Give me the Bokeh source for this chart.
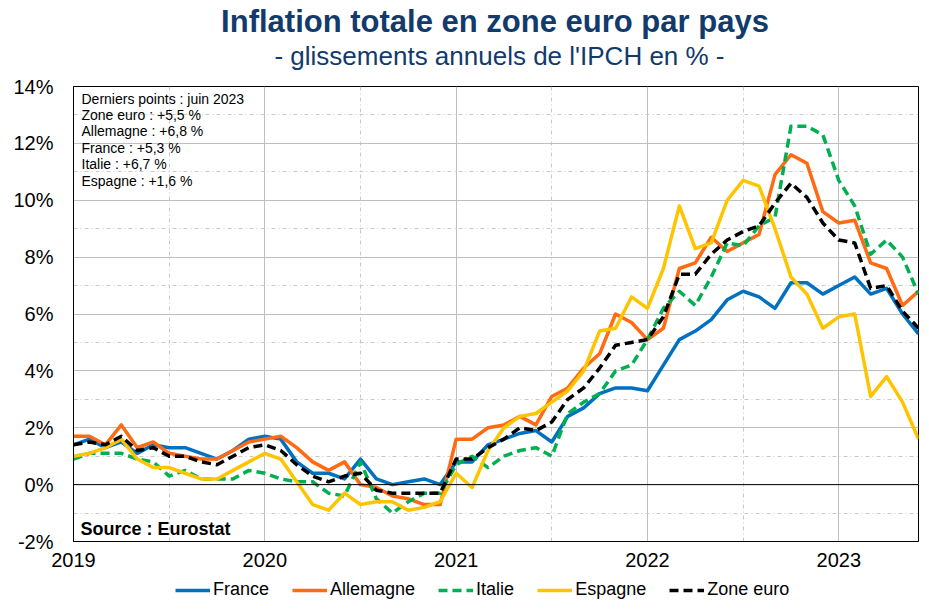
import numpy as np
from bokeh.plotting import figure
from bokeh.layouts import column
from bokeh.models import (Range1d, FixedTicker, Span, Label, Legend, LegendItem)
from bokeh.embed import file_html
from bokeh.resources import INLINE

# Monthly data, Jan 2019 -> Jun 2023 (HICP, y/y %)
france = [1.4, 1.6, 1.3, 1.5, 1.1, 1.4, 1.3, 1.3, 1.1, 0.9, 1.2, 1.6,
          1.7, 1.6, 0.8, 0.4, 0.4, 0.2, 0.9, 0.2, 0.0, 0.1, 0.2, 0.0,
          0.8, 0.8, 1.4, 1.6, 1.8, 1.9, 1.5, 2.4, 2.7, 3.2, 3.4, 3.4,
          3.3, 4.2, 5.1, 5.4, 5.8, 6.5, 6.8, 6.6, 6.2, 7.1, 7.1, 6.7,
          7.0, 7.3, 6.7, 6.9, 6.0, 5.3]
allemagne = [1.7, 1.7, 1.4, 2.1, 1.3, 1.5, 1.1, 1.0, 0.9, 0.9, 1.2, 1.5,
             1.6, 1.7, 1.3, 0.8, 0.5, 0.8, 0.0, -0.1, -0.4, -0.5, -0.7, -0.7,
             1.6, 1.6, 2.0, 2.1, 2.4, 2.1, 3.1, 3.4, 4.1, 4.6, 6.0, 5.7,
             5.1, 5.5, 7.6, 7.8, 8.7, 8.2, 8.5, 8.8, 10.9, 11.6, 11.3, 9.6,
             9.2, 9.3, 7.8, 7.6, 6.3, 6.8]
italie = [0.9, 1.1, 1.1, 1.1, 0.9, 0.8, 0.3, 0.5, 0.2, 0.2, 0.2, 0.5,
          0.4, 0.2, 0.1, 0.1, -0.3, -0.4, 0.8, -0.5, -1.0, -0.6, -0.3, -0.3,
          0.7, 1.0, 0.6, 1.0, 1.2, 1.3, 1.0, 2.5, 2.9, 3.2, 4.0, 4.2,
          5.1, 6.2, 6.8, 6.3, 7.3, 8.5, 8.4, 9.1, 9.4, 12.6, 12.6, 12.3,
          10.7, 9.8, 8.1, 8.6, 8.0, 6.7]
espagne = [1.0, 1.1, 1.3, 1.6, 0.9, 0.6, 0.6, 0.4, 0.2, 0.2, 0.5, 0.8,
           1.1, 0.9, 0.1, -0.7, -0.9, -0.3, -0.7, -0.6, -0.6, -0.9, -0.8, -0.6,
           0.4, -0.1, 1.2, 2.0, 2.4, 2.5, 2.9, 3.3, 4.0, 5.4, 5.5, 6.6,
           6.2, 7.6, 9.8, 8.3, 8.5, 10.0, 10.7, 10.5, 9.0, 7.3, 6.7, 5.5,
           5.9, 6.0, 3.1, 3.8, 2.9, 1.6]
zone_euro = [1.4, 1.5, 1.4, 1.7, 1.2, 1.3, 1.0, 1.0, 0.8, 0.7, 1.0, 1.3,
             1.4, 1.2, 0.7, 0.3, 0.1, 0.3, 0.4, -0.2, -0.3, -0.3, -0.3, -0.3,
             0.9, 0.9, 1.3, 1.6, 2.0, 1.9, 2.2, 3.0, 3.4, 4.1, 4.9, 5.0,
             5.1, 5.9, 7.4, 7.4, 8.1, 8.6, 8.9, 9.1, 9.9, 10.6, 10.1, 9.2,
             8.6, 8.5, 6.9, 7.0, 6.1, 5.5]

years = ["2019", "2020", "2021", "2022", "2023"]
y_ticks = [-2, 0, 2, 4, 6, 8, 10, 12, 14]
info_lines = ["Derniers points : juin 2023", "Zone euro : +5,5 %", "Allemagne : +6,8 %",
              "France : +5,3 %", "Italie : +6,7 %", "Espagne : +1,6 %"]
title_text = "Inflation totale en zone euro par pays"
subtitle_text = "- glissements annuels de l'IPCH en % -"
source_text = "Source : Eurostat"

series = [("France", france, "#0070C0", "solid"),
          ("Allemagne", allemagne, "#FF6A13", "solid"),
          ("Italie", italie, "#00B050", "9 5"),
          ("Espagne", espagne, "#FFC400", "solid"),
          ("Zone euro", zone_euro, "#000000", "9 5")]

x = np.arange(len(france))
FONT = "Liberation Sans"
NAVY = "#123A6B"

# ---- title strip ----
tt = figure(width=921, height=70, output_backend="svg", toolbar_location=None,
            x_range=Range1d(0, 1), y_range=Range1d(0, 1),
            x_axis_location=None, y_axis_location=None,
            min_border_left=0, min_border_right=0, min_border_top=0, min_border_bottom=0)
tt.outline_line_color = None
tt.grid.visible = False
tt.add_layout(Label(x=421.5, y=49, x_units="screen", y_units="screen",
                    text=title_text, text_align="center", text_baseline="alphabetic",
                    text_font=FONT, text_font_size="31px", text_font_style="bold",
                    text_color=NAVY))
tt.add_layout(Label(x=426, y=15, x_units="screen", y_units="screen",
                    text=subtitle_text, text_align="center", text_baseline="alphabetic",
                    text_font=FONT, text_font_size="26px", text_color=NAVY))

# ---- main chart ----
p = figure(width=921, height=505, output_backend="svg", toolbar_location=None,
           x_range=Range1d(0, len(france) - 1), y_range=Range1d(-2, 14),
           min_border_left=73, min_border_right=3, min_border_top=16, min_border_bottom=34)
p.outline_line_color = "black"
p.outline_line_width = 1
p.background_fill_color = "white"
p.border_fill_color = "white"

year_ticks = [12 * i for i in range(len(years))]
p.xaxis.ticker = FixedTicker(ticks=year_ticks, minor_ticks=[t + 6 for t in year_ticks])
p.xaxis.major_label_overrides = {t: lab for t, lab in zip(year_ticks, years)}
p.yaxis.ticker = FixedTicker(ticks=y_ticks, minor_ticks=[t + 1 for t in y_ticks[:-1]])
p.yaxis.major_label_overrides = {t: f"{t}%" for t in y_ticks}
for ax in (p.xaxis[0], p.yaxis[0]):
    ax.major_tick_line_color = None
    ax.minor_tick_line_color = None
    ax.axis_line_color = "black"
    ax.major_label_text_font = FONT
    ax.major_label_text_color = "black"
p.xaxis.major_label_text_font_size = "20px"
p.yaxis.major_label_text_font_size = "20px"
p.xaxis.major_label_standoff = 5
p.yaxis.major_label_standoff = 14

for g in (p.xgrid[0], p.ygrid[0]):
    g.grid_line_color = "#BFBFBF"
    g.grid_line_width = 1
    g.minor_grid_line_color = "#C8C8C8"
    g.minor_grid_line_dash = "4 3 1 3"
    g.minor_grid_line_width = 1
p.xgrid.ticker = p.xaxis.ticker
p.ygrid.ticker = p.yaxis.ticker

p.add_layout(Span(location=0, dimension="width", line_color="black", line_width=1))

for name, vals, col, dash in series:
    p.line(x, vals, line_color=col, line_width=3.5, line_dash=dash, line_join="round")

for i, line in enumerate(info_lines):
    p.add_layout(Label(x=8, y=443 - i * 16.4, x_units="screen", y_units="screen",
                       text=line, text_font=FONT, text_font_size="14px",
                       text_baseline="alphabetic", text_color="black"))

p.add_layout(Label(x=7, y=13, x_units="screen", y_units="screen",
                   text=source_text, text_font=FONT, text_font_size="18px",
                   text_font_style="bold", text_baseline="alphabetic", text_color="black"))

# ---- legend strip below the chart (same series, drawn outside its visible range) ----
lg = figure(width=921, height=34, output_backend="svg", toolbar_location=None,
            x_range=Range1d(-30, -20), y_range=Range1d(-30, -20),
            x_axis_location=None, y_axis_location=None,
            min_border_left=0, min_border_right=0, min_border_top=0, min_border_bottom=0)
lg.outline_line_color = None
lg.grid.visible = False
items = []
for name, vals, col, dash in series:
    r = lg.line(x, vals, line_color=col, line_width=3.5, line_dash=dash)
    items.append(LegendItem(label=name, renderers=[r]))
legend = Legend(items=items, orientation="horizontal", location=(102, 9),
                glyph_width=35, glyph_height=20, label_height=20,
                label_standoff=3, spacing=23, padding=0, margin=0,
                border_line_color=None, background_fill_alpha=0,
                label_text_font=FONT, label_text_font_size="18px",
                label_text_color="black")
lg.add_layout(legend, "center")

layout = column(tt, p, lg, spacing=0)
open("out.html", "w").write(file_html(layout, INLINE))
